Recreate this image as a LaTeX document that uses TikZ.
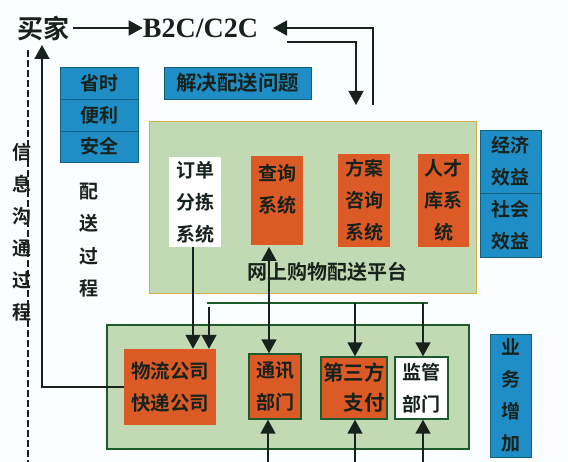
\documentclass[tikz,border=0pt]{standalone}
\usepackage{fontspec}
\newfontfamily\cjk{Noto Sans CJK SC}[BoldFont={Noto Sans CJK SC Bold}]
\setmainfont{Liberation Serif}
\usetikzlibrary{arrows.meta}
\definecolor{bgc}{HTML}{FBFEFE}
\definecolor{bluec}{HTML}{1F8EC6}
\definecolor{bluel}{HTML}{14607F}
\definecolor{orangec}{HTML}{DB5A26}
\definecolor{greenc}{HTML}{C2DAB4}
\definecolor{goldc}{HTML}{D8AE4A}
\definecolor{dgreen}{HTML}{1D5A2C}
\definecolor{inkc}{HTML}{18221C}
\tikzset{
  boxbase/.style={inner sep=0pt,align=center,text=inkc,font=\cjk\bfseries\fontsize{19}{32}\selectfont},
  bluebox/.style={boxbase,fill=bluec,draw=bluel,line width=.8pt},
  orangebox/.style={boxbase,fill=orangec},
  orangeline/.style={boxbase,fill=orangec,draw=dgreen,line width=1.4pt},
  whitebox/.style={boxbase,fill=white},
  whiteline/.style={boxbase,fill=white,draw=dgreen,line width=1.4pt},
  platform/.style={fill=greenc,draw=goldc,line width=1pt,inner sep=0pt},
  lowerpanel/.style={fill=greenc,draw=dgreen,line width=1.4pt,inner sep=0pt},
  plaintext/.style={inner sep=0pt,align=center,text=inkc,font=\cjk\bfseries\fontsize{19}{32}\selectfont},
  conn/.style={draw=inkc,line width=1.5pt},
  tipped/.style={conn,-{Triangle[length=14pt,width=15pt]}},
  twotip/.style={conn,{Triangle[length=14pt,width=15pt]}-{Triangle[length=14pt,width=15pt]}},
  size/.style n args={2}{minimum width=#1pt,minimum height=#2pt},
}
\begin{document}
\begin{tikzpicture}[x=1pt,y=-1pt]
\useasboundingbox (0,0) rectangle (568,462);
\fill[bgc] (0,0) rectangle (568,462);

% panels
\node[platform,size={327}{172}] (plat) at (312.5,208) {};
\node[lowerpanel,size={362}{124}] (lower) at (288,387) {};

% top row
\node[plaintext,font=\cjk\bfseries\fontsize{26}{28}\selectfont] (buyer) at (43,28) {买家};
\node[plaintext,font=\bfseries\fontsize{28}{28}\selectfont] (b2c) at (200.5,28) {B2C/C2C};

% blue stack left
\node[bluebox,size={78}{32}] (a1) at (99,83) {省时};
\node[bluebox,size={78}{32}] (a2) at (99,115) {便利};
\node[bluebox,size={78}{31}] (a3) at (99,146.5) {安全};
\node[bluebox,size={147}{32},font=\cjk\bfseries\fontsize{20.5}{32}\selectfont] (solve) at (237.5,83) {解决配送问题};

% blue stack right
\node[bluebox,size={61}{63}] (e1) at (510.5,161.5) {经济\\效益};
\node[bluebox,size={61}{64}] (e2) at (510.5,225) {社会\\效益};
\node[bluebox,size={41}{123}] (biz) at (510.5,395.5) {业\\务\\增\\加};

% platform boxes
\node[whitebox,size={52}{90}] (order) at (195,202) {订单\\分拣\\系统};
\node[orangebox,size={52}{89}] (query) at (277,200.5) {查询\\系统\\[-8pt]~};
\node[orangebox,size={52}{93}] (plan) at (364,200.5) {方案\\咨询\\系统};
\node[orangebox,size={51}{93}] (talent) at (443.5,200.5) {人才\\库系\\统};
\node[plaintext,font=\cjk\bfseries\fontsize{20}{24}\selectfont] (ptitle) at (327,272) {网上购物配送平台};

% lower boxes
\node[orangebox,size={92}{76},font=\cjk\bfseries\fontsize{19.5}{32}\selectfont] (wuliu) at (170,387) {物流公司\\快递公司};
\node[orangeline,size={52}{65}] (comm) at (275,386.5) {通讯\\部门};
\node[orangeline,size={66}{62},font=\cjk\bfseries\fontsize{20.5}{30}\selectfont] (pay) at (354,388) {第三方\\\hspace*{20pt}支付};
\node[whiteline,size={53}{62}] (reg) at (421.5,388) {监管\\部门};

% vertical texts
\node[plaintext] (info) at (22,232) {信\\息\\沟\\通\\过\\程};
\node[plaintext,font=\cjk\bfseries\fontsize{19}{32.5}\selectfont] (proc) at (89,240) {配\\送\\过\\程};

% helper coordinates
\coordinate (dashtop) at (28,50);
\coordinate (dashend) at (28,462);
\coordinate (upend) at (42,45);
\coordinate (retstart) at (373,105);
\coordinate (rettip) at (273,28);
\coordinate (outstart) at (287,42);
\coordinate (outcorner) at (356,42);
\coordinate (outtip) at (356,105);
\coordinate (busL) at (207,303);
\coordinate (busR) at (428,303);
\coordinate (busS) at (209,307);
\coordinate (busP) at (355,303);
\coordinate (busQ) at (423,303);
\coordinate (botA) at (268,462);
\coordinate (botB) at (355,462);
\coordinate (botC) at (423,462);
\coordinate (midT) at (269,247);
\coordinate (orderOut) at (193,247);

% connectors
\draw[tipped] (buyer.east) ++(4,0) -- (b2c.west);
\draw[tipped] (retstart) |- (rettip);
\draw[tipped] (outstart) -- (outcorner) -- (outtip);
\draw[draw=inkc,line width=1.3pt,dash pattern=on 7pt off 3pt] (dashtop) -- (dashend);
\draw[tipped] (wuliu.west) -| (upend);
\draw[tipped] (orderOut) -- (orderOut |- wuliu.north);
\draw[conn,draw=dgreen] (busL) -- (busR);
\draw[tipped] (busS) -- (busS |- wuliu.north);
\draw[twotip] (midT) -- (midT |- comm.north);
\draw[tipped] (busP) -- (busP |- pay.north);
\draw[tipped] (busQ) -- (busQ |- reg.north);
\draw[tipped] (botA) -- (botA |- comm.south);
\draw[tipped] (botB) -- (botB |- pay.south);
\draw[tipped] (botC) -- (botC |- reg.south);
\end{tikzpicture}
\end{document}
